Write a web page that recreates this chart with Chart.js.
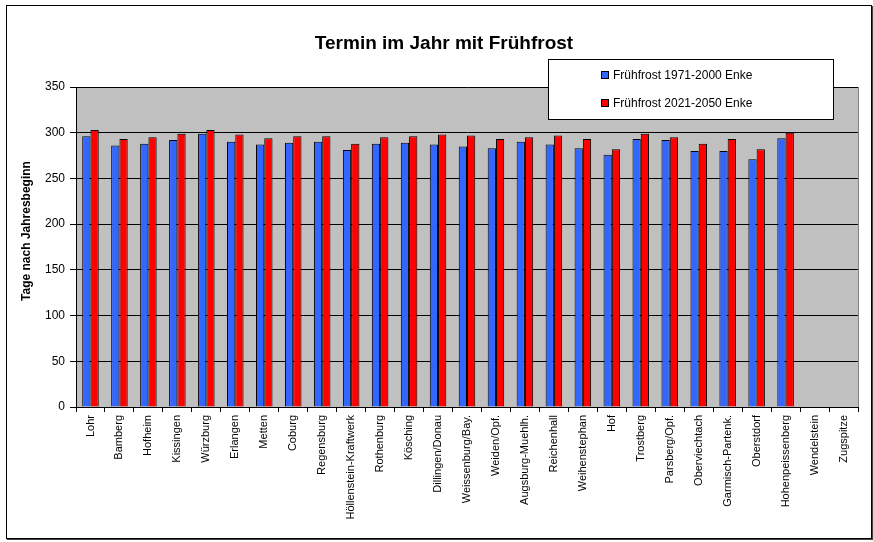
<!DOCTYPE html>
<html>
<head>
<meta charset="utf-8">
<script src="https://cdn.jsdelivr.net/npm/chart.js@4.4.0/dist/chart.umd.min.js"></script>
<style>
  html, body { margin: 0; padding: 0; background: #fff; }
  #wrap { position: relative; width: 873px; height: 542px; }
  #frame { position: absolute; left: 6px; top: 5px; width: 864px; height: 532px; border: 1px solid #000; box-shadow: 1px 1px 0 #444; }
  canvas { position: absolute; left: 0; top: 0; }
</style>
</head>
<body>
<div id="wrap">
  <div id="frame"></div>
  <canvas id="frostChart" width="873" height="542"></canvas>
</div>
<script>
// Stations (categories)
const stations = [
  "Lohr", "Bamberg", "Hofheim", "Kissingen", "Würzburg", "Erlangen", "Metten",
  "Coburg", "Regensburg", "Höllenstein-Kraftwerk", "Rothenburg", "Kösching",
  "Dillingen/Donau", "Weissenburg/Bay.", "Weiden/Opf.", "Augsburg-Muehlh.",
  "Reichenhall", "Weihenstephan", "Hof", "Trostberg", "Parsberg/Opf.",
  "Oberviechtach", "Garmisch-Partenk.", "Oberstdorf", "Hohenpeissenberg",
  "Wendelstein", "Zugspitze"
];

// Day of year with first frost
const frost1971 = [296, 286, 288, 292, 299, 290, 287, 289, 290, 281, 288, 289, 287, 285,
  283, 290, 287, 283, 276, 293, 292, 280, 280, 271, 294, null, null];
const frost2021 = [303, 293, 295, 299, 303, 298, 294, 296, 296, 288, 295, 296, 298, 297,
  293, 295, 297, 293, 282, 299, 295, 288, 293, 282, 300, null, null];

const seriesNames = ["Frühfrost 1971-2000 Enke", "Frühfrost 2021-2050 Enke"];
const seriesColors = ["#3366ff", "#ff0000"];
const yMax = 350;
const yStep = 50;

const FONT = "'Liberation Sans', Arial, sans-serif";

// Gray plot background, title, axis title and the boxed legend
const decor = {
  id: "decor",
  beforeDraw(chart) {
    const { ctx, chartArea: a } = chart;
    ctx.save();
    ctx.fillStyle = "#c0c0c0";
    ctx.fillRect(a.left, a.top, a.right - a.left, a.bottom - a.top);
    ctx.restore();
  },
  afterDraw(chart) {
    const { ctx, chartArea: a } = chart;
    ctx.save();
    // right edge of plot
    ctx.strokeStyle = "#808080";
    ctx.lineWidth = 1;
    ctx.beginPath();
    ctx.moveTo(a.right + 0.5, a.top);
    ctx.lineTo(a.right + 0.5, a.bottom);
    ctx.stroke();

    // title
    ctx.fillStyle = "#000";
    ctx.font = "bold 19px " + FONT;
    ctx.textAlign = "center";
    ctx.textBaseline = "middle";
    ctx.fillText("Termin im Jahr mit Frühfrost", 444, 44);

    // y axis title
    ctx.save();
    ctx.translate(27, 231);
    ctx.rotate(-Math.PI / 2);
    ctx.font = "bold 12px " + FONT;
    ctx.fillText("Tage nach Jahresbeginn", 0, 0);
    ctx.restore();

    // legend box
    const lx = 548, ly = 59, lw = 285, lh = 60;
    ctx.fillStyle = "#fff";
    ctx.fillRect(lx, ly, lw, lh);
    ctx.strokeStyle = "#000";
    ctx.strokeRect(lx + 0.5, ly + 0.5, lw, lh);
    ctx.font = "12px " + FONT;
    ctx.textAlign = "left";
    seriesNames.forEach((name, i) => {
      const cy = 75 + i * 28;
      ctx.fillStyle = seriesColors[i];
      ctx.fillRect(601, cy - 3, 7, 7);
      ctx.strokeStyle = "#000";
      ctx.strokeRect(601.5, cy - 3.5, 7, 7);
      ctx.fillStyle = "#000";
      ctx.fillText(name, 613, cy + 1);
    });
    ctx.restore();
  }
};

new Chart(document.getElementById("frostChart").getContext("2d"), {
  type: "bar",
  data: {
    labels: stations,
    datasets: [
      {
        label: seriesNames[0],
        data: frost1971,
        backgroundColor: seriesColors[0],
        borderColor: "#000",
        borderWidth: 1,
      },
      {
        label: seriesNames[1],
        data: frost2021,
        backgroundColor: seriesColors[1],
        borderColor: "#000",
        borderWidth: 1,
      },
    ],
  },
  options: {
    responsive: false,
    animation: false,
    layout: { padding: { left: 7, right: 15, top: 87, bottom: 15 } },
    datasets: { bar: { categoryPercentage: 0.571, barPercentage: 1.0 } },
    plugins: {
      legend: { display: false },
      title: { display: false },
      tooltip: { enabled: false },
    },
    scales: {
      x: {
        grid: { drawOnChartArea: false, drawTicks: true, tickLength: 5, color: "#000", offset: true },
        border: { color: "#000" },
        ticks: {
          color: "#000",
          font: { family: FONT, size: 11 },
          minRotation: 90,
          maxRotation: 90,
          padding: 3,
          autoSkip: false,
        },
        afterFit(scale) { scale.height = 120; },
      },
      y: {
        min: 0,
        max: yMax,
        grid: { color: "#000", tickLength: 6 },
        border: { color: "#000" },
        ticks: {
          stepSize: yStep,
          color: "#000",
          font: { family: FONT, size: 12 },
          padding: 5,
        },
        afterFit(scale) { scale.width = 69; },
      },
    },
  },
  plugins: [decor],
});
</script>
</body>
</html>
